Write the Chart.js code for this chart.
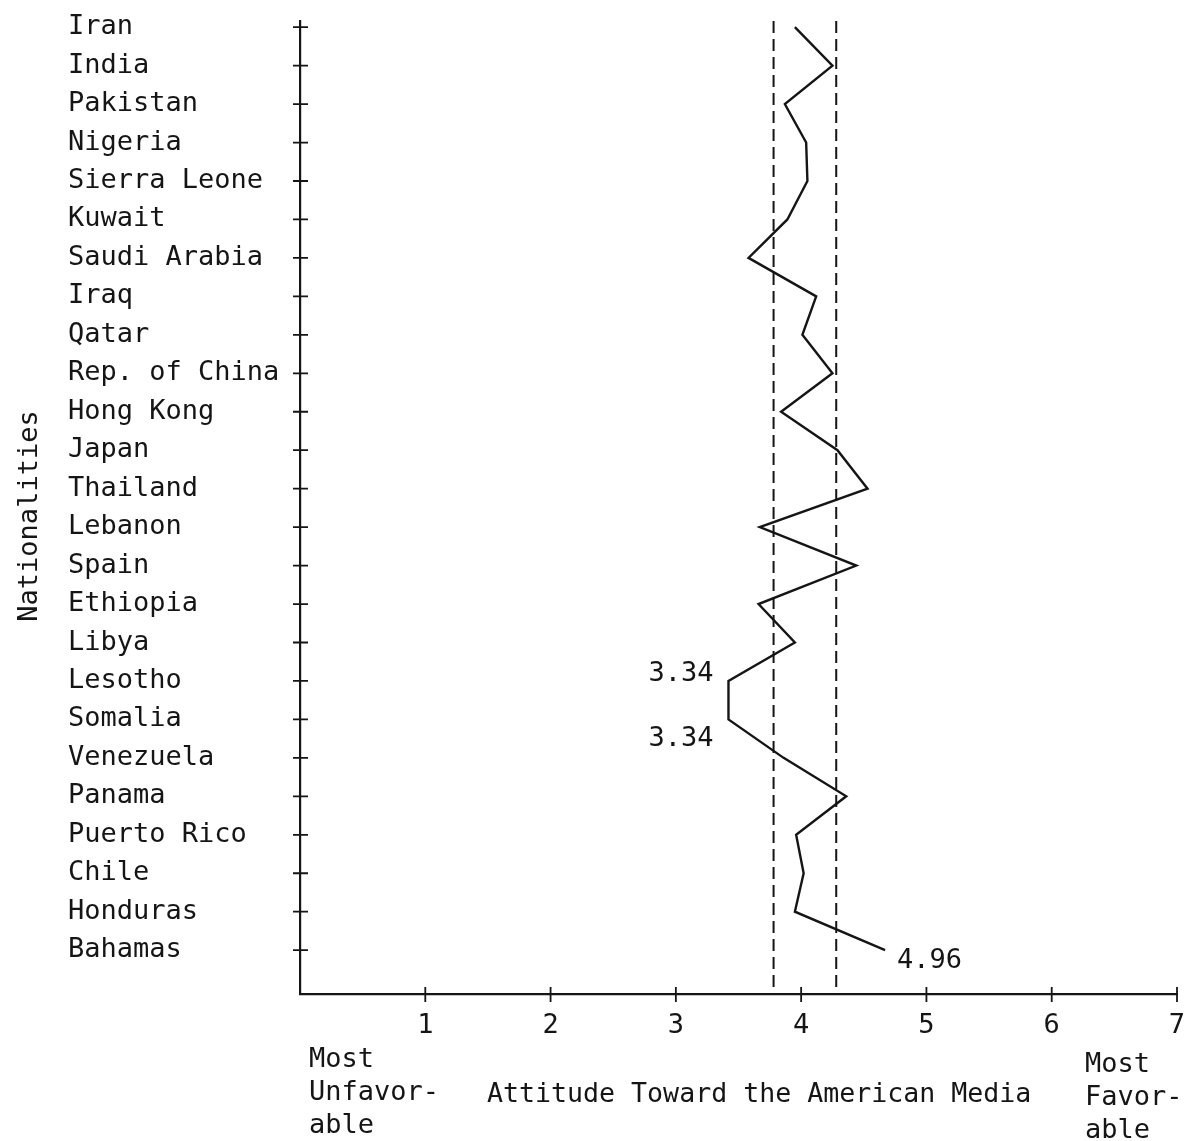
<!DOCTYPE html>
<html>
<head>
<meta charset="utf-8">
<script src="https://cdn.jsdelivr.net/npm/chart.js@4.4.1/dist/chart.umd.min.js"></script>
<style>
  html, body { margin: 0; padding: 0; background: #fff; }
  #wrap { width: 1186px; height: 1141px; }
</style>
</head>
<body>
<div id="wrap"><canvas id="chart" width="1186" height="1141"></canvas></div>
<script>
// nationalities, top to bottom
const countries = [
  'Iran', 'India', 'Pakistan', 'Nigeria', 'Sierra Leone', 'Kuwait',
  'Saudi Arabia', 'Iraq', 'Qatar', 'Rep. of China', 'Hong Kong', 'Japan',
  'Thailand', 'Lebanon', 'Spain', 'Ethiopia', 'Libya', 'Lesotho', 'Somalia',
  'Venezuela', 'Panama', 'Puerto Rico', 'Chile', 'Honduras', 'Bahamas'
];

// mean attitude score per nationality
const attitude = [
  3.95, 4.25, 3.87, 4.04, 4.05, 3.89,
  3.58, 4.12, 4.01, 4.25, 3.84, 4.29,
  4.53, 3.67, 4.44, 3.66, 3.95, 3.42, 3.42,
  3.86, 4.36, 3.96, 4.02, 3.95, 4.67
];

// dashed reference band
const bandLow = 3.78;
const bandHigh = 4.28;

// x axis scale
const xMin = 0;
const xMax = 7;
const xTicks = [1, 2, 3, 4, 5, 6, 7];

// printed value notes
const noteRows = [17, 18, 24];
const noteText = ['3.34', '3.34', '4.96'];

// y range in row units (a little room above first row and below last)
const yMin = -0.16;
const yMax = 25.14;

const INK = '#151515';
const FONT = "'DejaVu Sans Mono', monospace";
const FONT_SIZE = 27;

// note placement: dx, dy (baseline), align
const noteStyle = [[-15, 0, 'right'], [-15, 27, 'right'], [12, 18, 'left']];

const linePoints = attitude.map((v, i) => ({ x: v, y: i }));
const bandLine = (v) => [{ x: v, y: yMin }, { x: v, y: yMax }];

const extraText = {
  id: 'extraText',
  afterDraw(chart) {
    const { ctx, chartArea, scales: { x, y } } = chart;
    ctx.save();
    ctx.strokeStyle = INK;
    ctx.lineWidth = 1.8;

    // tick marks that cross the axes
    ctx.beginPath();
    countries.forEach((c, i) => {
      const py = y.getPixelForValue(i);
      ctx.moveTo(chartArea.left - 7, py);
      ctx.lineTo(chartArea.left + 8, py);
    });
    xTicks.forEach((v) => {
      const px = x.getPixelForValue(v);
      ctx.moveTo(px, chartArea.bottom - 7);
      ctx.lineTo(px, chartArea.bottom + 8);
    });
    ctx.stroke();

    ctx.fillStyle = INK;
    ctx.font = FONT_SIZE + 'px ' + FONT;
    ctx.textBaseline = 'alphabetic';

    // value notes next to the line
    noteRows.forEach((row, i) => {
      const [dx, dy, align] = noteStyle[i];
      ctx.textAlign = align;
      ctx.fillText(noteText[i], x.getPixelForValue(attitude[row]) + dx, y.getPixelForValue(row) + dy);
    });

    // axis titles and scale end labels
    ctx.textAlign = 'left';
    ctx.fillText('Most', 309, 1067);
    ctx.fillText('Unfavor-', 309, 1100);
    ctx.fillText('able', 309, 1133);
    ctx.font = '26.6px ' + FONT;
    ctx.fillText('Attitude Toward the American Media', 487, 1102);
    ctx.font = FONT_SIZE + 'px ' + FONT;
    ctx.fillText('Most', 1085, 1072);
    ctx.fillText('Favor-', 1085, 1105);
    ctx.fillText('able', 1085, 1138);

    ctx.translate(37, 516);
    ctx.rotate(-Math.PI / 2);
    ctx.textAlign = 'center';
    ctx.fillText('Nationalities', 0, 0);
    ctx.restore();
  }
};

const ctx = document.getElementById('chart').getContext('2d');
new Chart(ctx, {
  type: 'scatter',
  data: {
    datasets: [
      {
        data: bandLine(bandLow),
        showLine: true,
        borderColor: INK,
        borderWidth: 2,
        borderDash: [12, 6],
        pointRadius: 0
      },
      {
        data: bandLine(bandHigh),
        showLine: true,
        borderColor: INK,
        borderWidth: 2,
        borderDash: [12, 6],
        pointRadius: 0
      },
      {
        data: linePoints,
        showLine: true,
        borderColor: INK,
        borderWidth: 2.4,
        pointRadius: 0,
        tension: 0
      }
    ]
  },
  options: {
    responsive: false,
    animation: false,
    layout: { padding: { left: 68, right: 9, top: 21, bottom: 0 } },
    plugins: {
      legend: { display: false },
      tooltip: { enabled: false }
    },
    scales: {
      x: {
        type: 'linear',
        min: xMin,
        max: xMax,
        afterBuildTicks: (s) => { s.ticks = xTicks.map((v) => ({ value: v })); },
        afterFit: (s) => { s.height = 147; s.paddingLeft = 0; s.paddingRight = 0; },
        grid: { display: false },
        border: { display: true, color: INK, width: 2.2 },
        ticks: {
          color: INK,
          padding: 8,
          maxRotation: 0,
          autoSkip: false,
          font: { family: FONT, size: FONT_SIZE }
        }
      },
      y: {
        type: 'linear',
        reverse: true,
        min: yMin,
        max: yMax,
        afterBuildTicks: (s) => { s.ticks = countries.map((c, i) => ({ value: i })); },
        afterFit: (s) => { s.width = 232; s.paddingTop = 0; s.paddingBottom = 0; },
        grid: { display: false },
        border: { display: true, color: INK, width: 2.2 },
        ticks: {
          color: INK,
          autoSkip: false,
          crossAlign: 'far',
          callback: (v) => countries[v] ?? '',
          font: { family: FONT, size: FONT_SIZE }
        }
      }
    }
  },
  plugins: [extraText]
});
</script>
</body>
</html>
